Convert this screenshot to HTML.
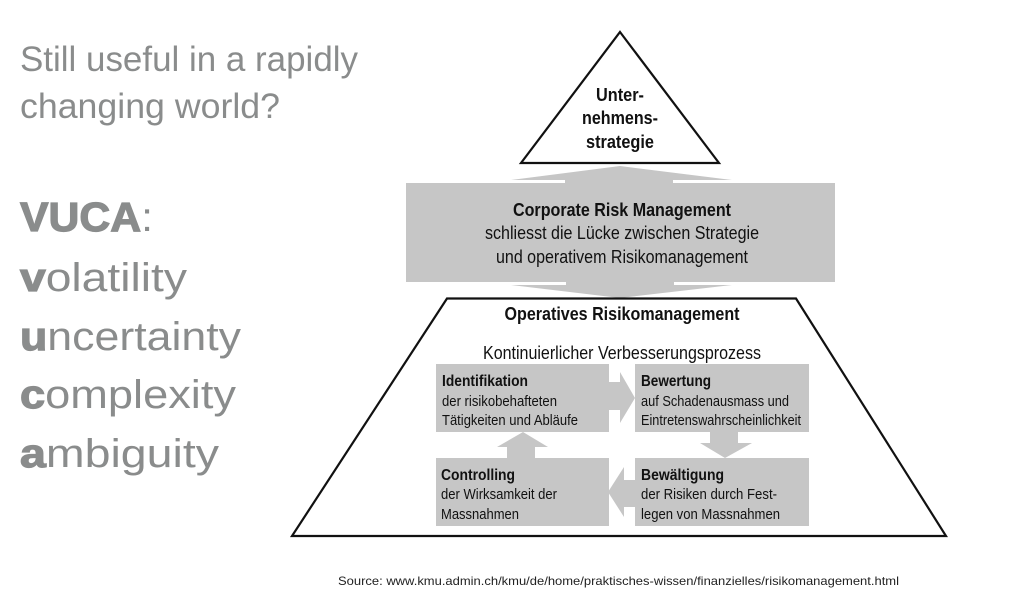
<!DOCTYPE html>
<html lang="en">
<head>
<meta charset="utf-8">
<title>VUCA Risk Management Pyramid</title>
<style>
html,body{margin:0;padding:0;background:#fff;}
body{width:1031px;height:602px;overflow:hidden;position:relative;}
svg{position:absolute;left:0;top:0;}
text{font-family:"Liberation Sans",sans-serif;}
.l{fill:#8a8c8c;}
.h{font-size:35px;fill:#8a8c8c;}
.b{font-weight:bold;}
.heavy{stroke:#8a8c8c;stroke-width:1.2px;}
.t{fill:#111;}
.soft{filter:blur(0.35px);}
</style>
</head>
<body>
<svg width="1031" height="602" viewBox="0 0 1031 602">
  <g>
    <text class="h" x="20" y="71" textLength="338" lengthAdjust="spacingAndGlyphs">Still useful in a rapidly</text>
    <text class="h" x="20" y="118" textLength="260" lengthAdjust="spacingAndGlyphs">changing world?</text>
    <text class="l" x="20" y="231" style="font-size:41px" textLength="133" lengthAdjust="spacingAndGlyphs"><tspan class="b heavy">VUCA</tspan>:</text>
    <text class="l" x="20" y="291" style="font-size:40px" textLength="167" lengthAdjust="spacingAndGlyphs"><tspan class="b heavy">v</tspan>olatility</text>
    <text class="l" x="20" y="350" style="font-size:40px" textLength="221" lengthAdjust="spacingAndGlyphs"><tspan class="b heavy">u</tspan>ncertainty</text>
    <text class="l" x="20" y="408" style="font-size:40px" textLength="216" lengthAdjust="spacingAndGlyphs"><tspan class="b heavy">c</tspan>omplexity</text>
    <text class="l" x="20" y="467" style="font-size:40px" textLength="199" lengthAdjust="spacingAndGlyphs"><tspan class="b heavy">a</tspan>mbiguity</text>
  </g>

  <g class="soft">
  <g>
    <polygon points="511,180 620,166 732,180" fill="#c6c6c6"/>
    <polygon points="511,285 732,285 620,298" fill="#c6c6c6"/>
    <rect x="565" y="178" width="108" height="8" fill="#c6c6c6"/>
    <rect x="566" y="280" width="108" height="8" fill="#c6c6c6"/>
    <rect x="406" y="183" width="429" height="99" fill="#c6c6c6"/>
    <text class="t b" x="622" y="216" text-anchor="middle" font-size="18.5" textLength="218" lengthAdjust="spacingAndGlyphs">Corporate Risk Management</text>
    <text class="t" x="622" y="239" text-anchor="middle" font-size="18.5" textLength="274" lengthAdjust="spacingAndGlyphs">schliesst die Lücke zwischen Strategie</text>
    <text class="t" x="622" y="263" text-anchor="middle" font-size="18.5" textLength="252" lengthAdjust="spacingAndGlyphs">und operativem Risikomanagement</text>
  </g>

  <g>
    <polygon points="620,32 719,163 521,163" fill="#fff" stroke="#111" stroke-width="2.2"/>
    <text class="t b" x="620" y="101" text-anchor="middle" font-size="18.5" textLength="48" lengthAdjust="spacingAndGlyphs">Unter-</text>
    <text class="t b" x="620" y="124" text-anchor="middle" font-size="18.5" textLength="76" lengthAdjust="spacingAndGlyphs">nehmens-</text>
    <text class="t b" x="620" y="148" text-anchor="middle" font-size="18.5" textLength="68" lengthAdjust="spacingAndGlyphs">strategie</text>
  </g>

  <g>
    <polygon points="447,298.5 796,298.5 946,536 292,536" fill="none" stroke="#111" stroke-width="2.2"/>
    <text class="t b" x="622" y="320" text-anchor="middle" font-size="18.5" textLength="235" lengthAdjust="spacingAndGlyphs">Operatives Risikomanagement</text>
    <text class="t" x="622" y="359" text-anchor="middle" font-size="18.5" textLength="278" lengthAdjust="spacingAndGlyphs">Kontinuierlicher Verbesserungsprozess</text>

    <polygon points="609,382 620,382 620,372 635,398 620,423 620,410 609,410" fill="#c6c6c6"/>
    <polygon points="710,432 738,432 738,443 752,443 725,458 700,443 710,443" fill="#c6c6c6"/>
    <polygon points="636,480 624,480 624,467 608,492 624,517 624,507 636,507" fill="#c6c6c6"/>
    <polygon points="507,458 535,458 535,447 548,447 523,432 497,447 507,447" fill="#c6c6c6"/>

    <rect x="436" y="364" width="173" height="68" fill="#c6c6c6"/>
    <rect x="635" y="364" width="174" height="68" fill="#c6c6c6"/>
    <rect x="436" y="458" width="173" height="68" fill="#c6c6c6"/>
    <rect x="635" y="458" width="174" height="68" fill="#c6c6c6"/>

    <text class="t b" x="442" y="386" font-size="16" textLength="86" lengthAdjust="spacingAndGlyphs">Identifikation</text>
    <text class="t" x="442" y="406" font-size="15" textLength="115" lengthAdjust="spacingAndGlyphs">der risikobehafteten</text>
    <text class="t" x="442" y="425" font-size="15" textLength="136" lengthAdjust="spacingAndGlyphs">Tätigkeiten und Abläufe</text>

    <text class="t b" x="641" y="386" font-size="16" textLength="70" lengthAdjust="spacingAndGlyphs">Bewertung</text>
    <text class="t" x="641" y="406" font-size="15" textLength="148" lengthAdjust="spacingAndGlyphs">auf Schadenausmass und</text>
    <text class="t" x="641" y="425" font-size="15" textLength="160" lengthAdjust="spacingAndGlyphs">Eintretenswahrscheinlichkeit</text>

    <text class="t b" x="441" y="480" font-size="16" textLength="74" lengthAdjust="spacingAndGlyphs">Controlling</text>
    <text class="t" x="441" y="499" font-size="15" textLength="116" lengthAdjust="spacingAndGlyphs">der Wirksamkeit der</text>
    <text class="t" x="441" y="519" font-size="15" textLength="78" lengthAdjust="spacingAndGlyphs">Massnahmen</text>

    <text class="t b" x="641" y="480" font-size="16" textLength="83" lengthAdjust="spacingAndGlyphs">Bewältigung</text>
    <text class="t" x="641" y="499" font-size="15" textLength="136" lengthAdjust="spacingAndGlyphs">der Risiken durch Fest-</text>
    <text class="t" x="641" y="519" font-size="15" textLength="139" lengthAdjust="spacingAndGlyphs">legen von Massnahmen</text>
  </g>
  </g>

  <text x="338" y="585" font-size="12" fill="#222" textLength="561" lengthAdjust="spacingAndGlyphs">Source: www.kmu.admin.ch/kmu/de/home/praktisches-wissen/finanzielles/risikomanagement.html</text>
</svg>
</body>
</html>
